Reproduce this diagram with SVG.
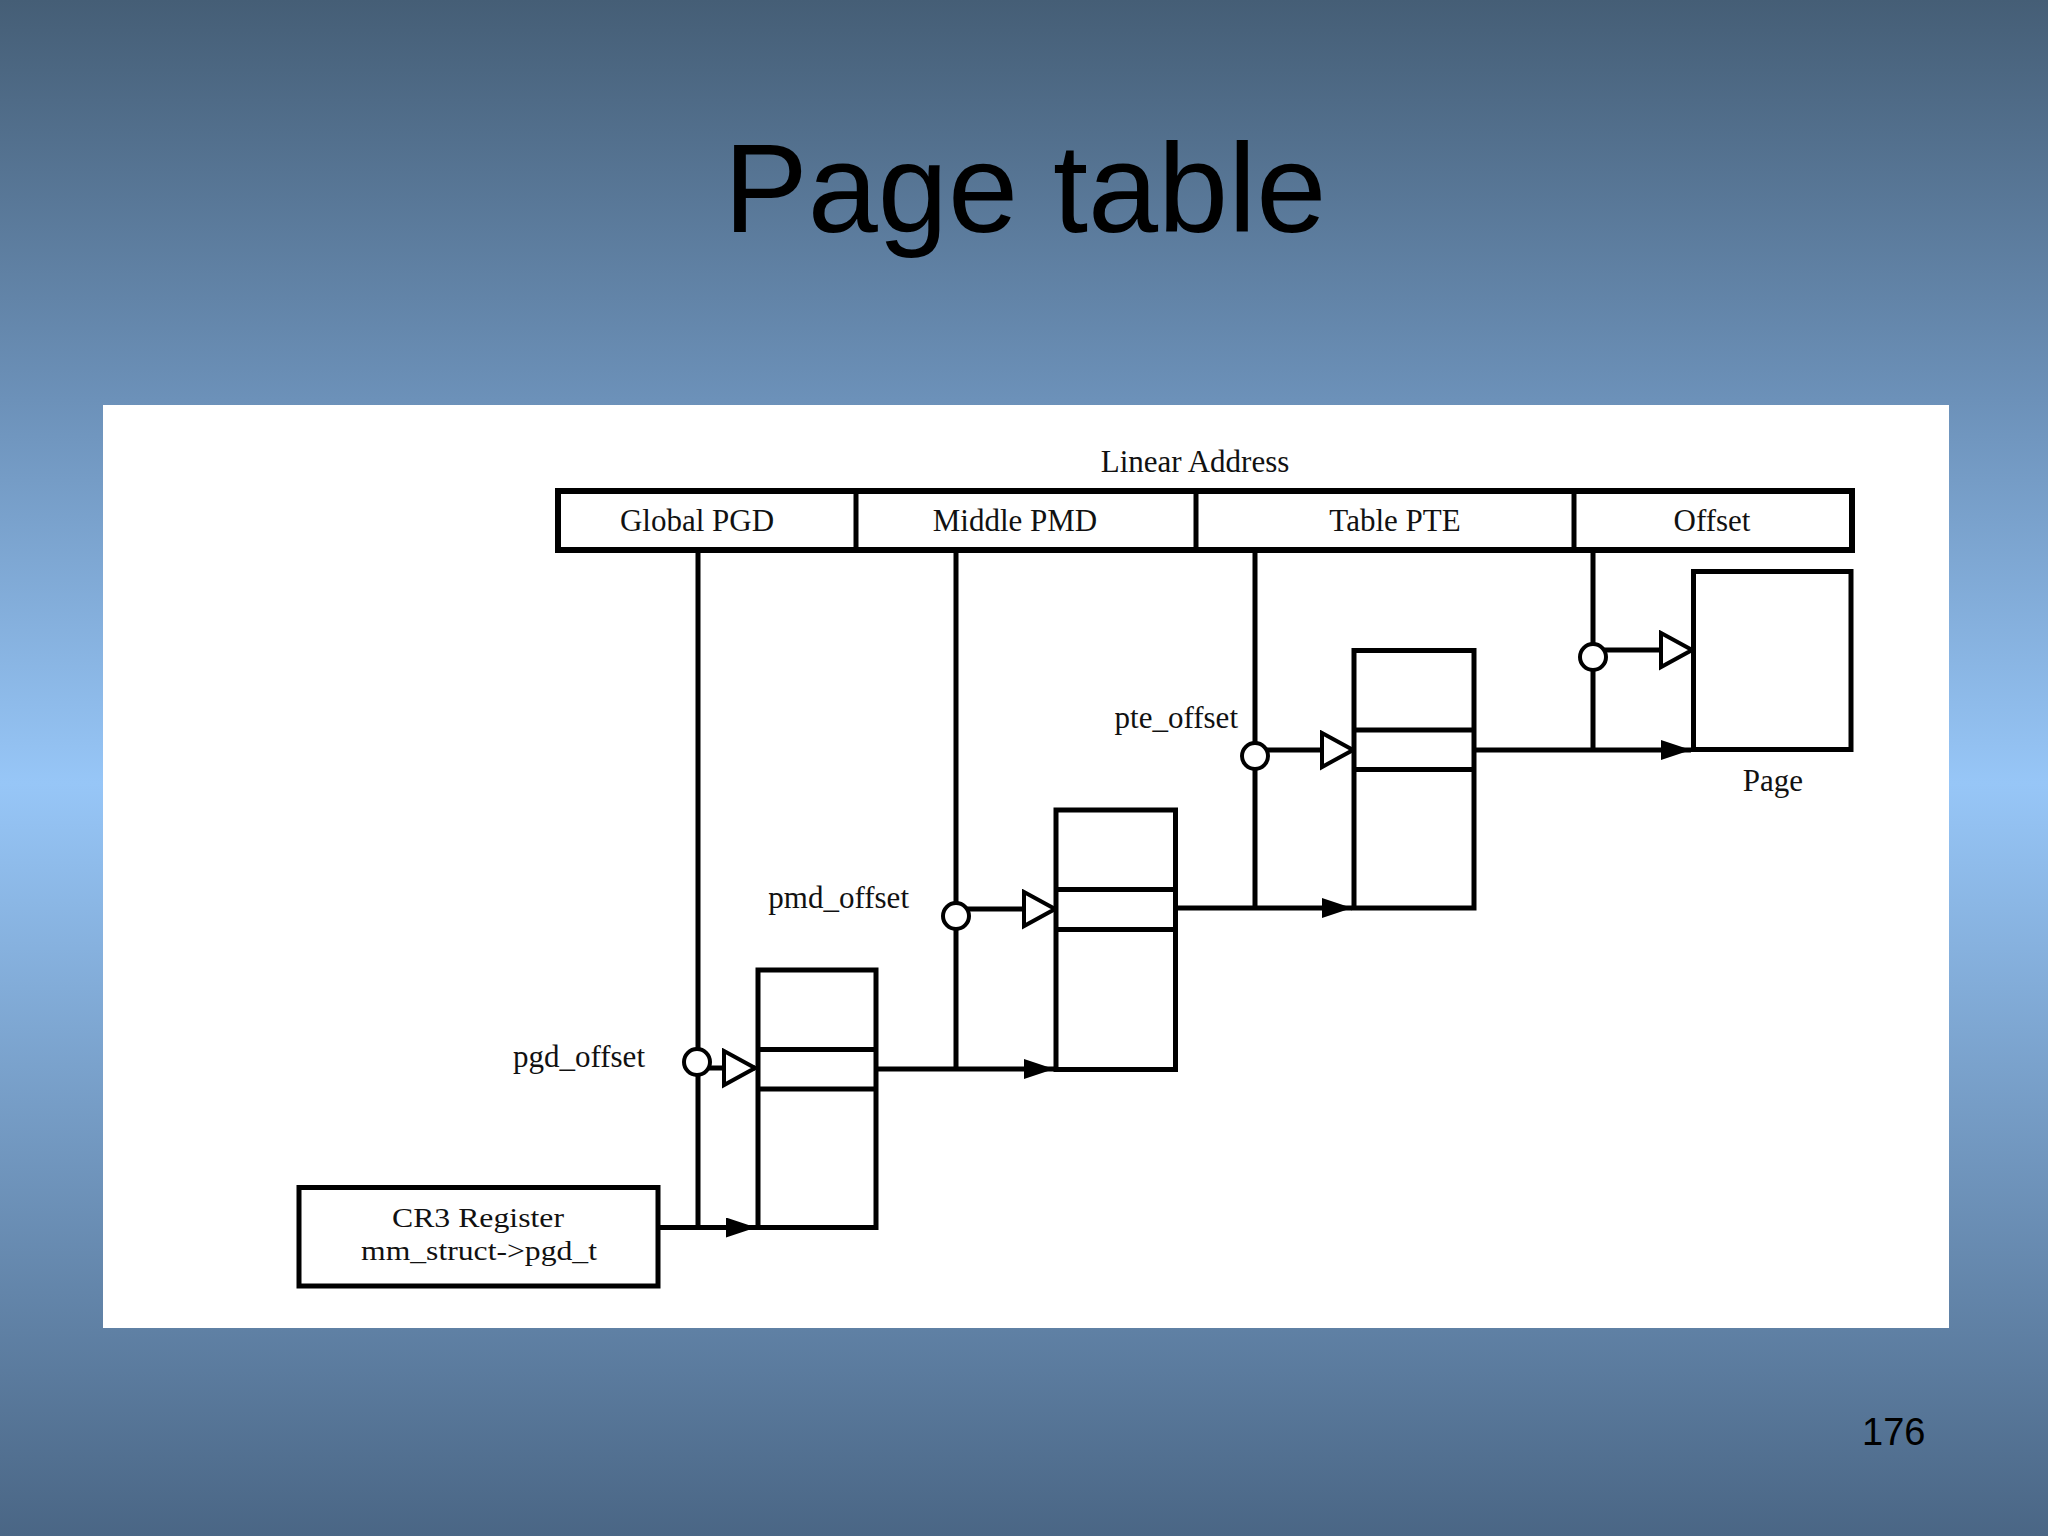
<svg xmlns="http://www.w3.org/2000/svg" width="2048" height="1536" viewBox="0 0 2048 1536">
<defs>
<linearGradient id="bg" x1="0" y1="0" x2="0" y2="1">
<stop offset="0" stop-color="#455e76"/>
<stop offset="0.26" stop-color="#6c91b9"/>
<stop offset="0.51" stop-color="#97c6f7"/>
<stop offset="1" stop-color="#4a6685"/>
</linearGradient>
<marker id="fill" viewBox="0 0 30 20" refX="30" refY="10" markerWidth="30" markerHeight="20" markerUnits="userSpaceOnUse" orient="auto">
<path d="M0,0 L30,10 L0,20 Z" fill="#000"/>
</marker>
<marker id="hollow" viewBox="-3 -3 37 41" refX="31" refY="17" markerWidth="37" markerHeight="41" markerUnits="userSpaceOnUse" orient="auto">
<path d="M0,0 L31,17 L0,34 Z" fill="#fff" stroke="#000" stroke-width="4"/>
</marker>
<style>
.t{font-family:"Liberation Serif","Times New Roman",serif;font-size:31px;fill:#111}
.s{font-size:28px}
.box{fill:#fff;stroke:#000;stroke-width:5}
.ln{fill:none;stroke:#000;stroke-width:5}
.ring{fill:#fff;stroke:#000;stroke-width:4}
</style>
</defs>
<rect x="0" y="0" width="2048" height="1536" fill="url(#bg)"/>
<text x="1025" y="232" text-anchor="middle" font-family="Liberation Sans, Arial, sans-serif" font-size="126" fill="#000">Page table</text>
<text x="1862" y="1445" font-family="Liberation Sans, Arial, sans-serif" font-size="38" fill="#000">176</text>
<rect x="103" y="405" width="1846" height="923" fill="#fff"/>

<text class="t" x="1195" y="472" text-anchor="middle">Linear Address</text>

<g id="connectors">
<line class="ln" x1="698" y1="553" x2="698" y2="1227"/>
<line class="ln" x1="956" y1="553" x2="956" y2="1069"/>
<line class="ln" x1="1255" y1="553" x2="1255" y2="908" stroke-width="7"/>
<line class="ln" x1="1593" y1="553" x2="1593" y2="750"/>
<line class="ln" x1="658" y1="1227.5" x2="756" y2="1227.5" marker-end="url(#fill)"/>
<line class="ln" x1="876" y1="1069" x2="1054" y2="1069" marker-end="url(#fill)"/>
<line class="ln" x1="1175" y1="908" x2="1352" y2="908" marker-end="url(#fill)"/>
<line class="ln" x1="1474" y1="750" x2="1691" y2="750" marker-end="url(#fill)"/>
<line class="ln" x1="705" y1="1068" x2="755" y2="1068" marker-end="url(#hollow)"/>
<line class="ln" x1="962" y1="909" x2="1055" y2="909" marker-end="url(#hollow)"/>
<line class="ln" x1="1262" y1="750" x2="1353" y2="750" marker-end="url(#hollow)"/>
<line class="ln" x1="1600" y1="650" x2="1692" y2="650" marker-end="url(#hollow)"/>
<circle class="ring" cx="697" cy="1062" r="13"/>
<circle class="ring" cx="956" cy="916" r="13"/>
<circle class="ring" cx="1255" cy="756" r="13"/>
<circle class="ring" cx="1593" cy="657" r="13"/>
</g>

<g id="linear-address">
<rect x="558" y="491" width="1294" height="59" fill="#fff" stroke="#000" stroke-width="6"/>
<line class="ln" x1="856" y1="491" x2="856" y2="550"/>
<line class="ln" x1="1196" y1="491" x2="1196" y2="550"/>
<line class="ln" x1="1574" y1="491" x2="1574" y2="550"/>
<text class="t" x="697" y="531" text-anchor="middle">Global PGD</text>
<text class="t" x="1015" y="531" text-anchor="middle">Middle PMD</text>
<text class="t" x="1395" y="531" text-anchor="middle">Table PTE</text>
<text class="t" x="1712" y="531" text-anchor="middle">Offset</text>
</g>

<g id="cr3">
<rect class="box" x="299" y="1187.5" width="359" height="98.5"/>
<text class="t s" x="392" y="1227" textLength="172" lengthAdjust="spacingAndGlyphs">CR3 Register</text>
<text class="t s" x="361" y="1260" textLength="236" lengthAdjust="spacingAndGlyphs">mm_struct-&gt;pgd_t</text>
</g>

<g id="pgd-table">
<rect class="box" x="758" y="970" width="118" height="257.5"/>
<line class="ln" x1="758" y1="1049.5" x2="876" y2="1049.5"/>
<line class="ln" x1="758" y1="1089" x2="876" y2="1089"/>
</g>
<text class="t" x="645" y="1067" text-anchor="end">pgd_offset</text>

<g id="pmd-table">
<rect class="box" x="1056" y="810" width="119.5" height="259.5"/>
<line class="ln" x1="1056" y1="889.5" x2="1175.5" y2="889.5"/>
<line class="ln" x1="1056" y1="929.5" x2="1175.5" y2="929.5" stroke-width="6"/>
</g>
<text class="t" x="909" y="908" text-anchor="end">pmd_offset</text>

<g id="pte-table">
<rect class="box" x="1354" y="650.5" width="120" height="257.5"/>
<line class="ln" x1="1354" y1="730" x2="1474" y2="730"/>
<line class="ln" x1="1354" y1="769.5" x2="1474" y2="769.5"/>
</g>
<text class="t" x="1238" y="728" text-anchor="end">pte_offset</text>

<g id="page">
<rect class="box" x="1693.5" y="571.5" width="157.5" height="178"/>
<text class="t" x="1773" y="791" text-anchor="middle">Page</text>
</g>
</svg>
